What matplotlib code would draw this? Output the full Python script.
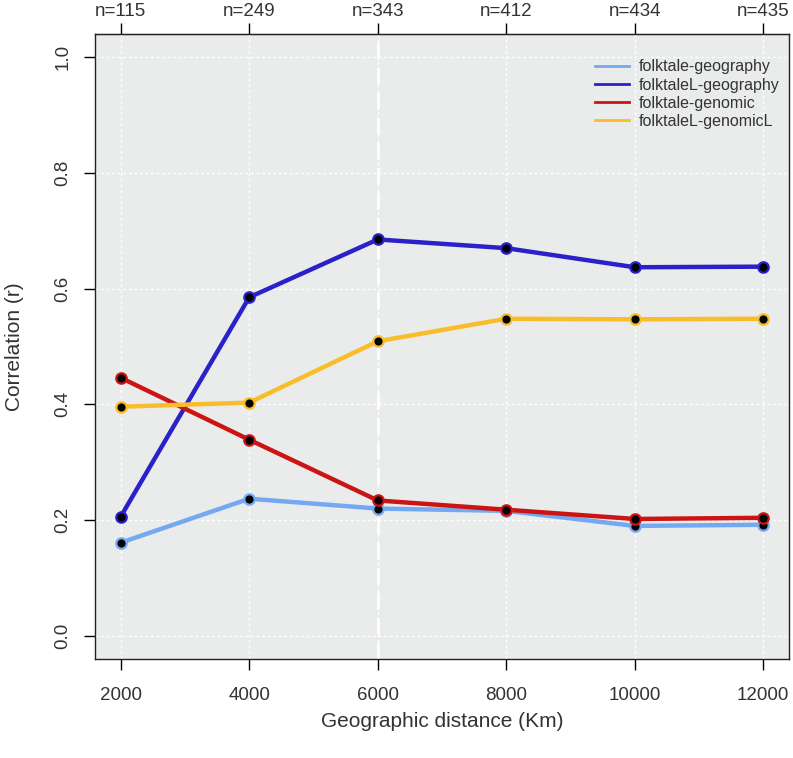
import numpy as np
import matplotlib.pyplot as plt

plt.rcParams['font.family'] = ['Liberation Sans', 'DejaVu Sans']

distance = [2000, 4000, 6000, 8000, 10000, 12000]
n_pairs = ['n=115', 'n=249', 'n=343', 'n=412', 'n=434', 'n=435']

folktale_geo = [0.161, 0.237, 0.220, 0.216, 0.190, 0.192]
folktaleL_geo = [0.206, 0.585, 0.685, 0.670, 0.637, 0.638]
folktale_gen = [0.446, 0.339, 0.234, 0.218, 0.202, 0.204]
folktaleL_genL = [0.396, 0.403, 0.509, 0.548, 0.547, 0.548]

series = [
    ('folktale-geography', folktale_geo, '#74a9f2'),
    ('folktaleL-geography', folktaleL_geo, '#2b21c9'),
    ('folktale-genomic', folktale_gen, '#cc1414'),
    ('folktaleL-genomicL', folktaleL_genL, '#f9bd2b'),
]

txt = '#333333'
fig = plt.figure(figsize=(7.93, 7.58), dpi=100)
ax = fig.add_axes([0.1198, 0.1306, 0.875, 0.8245])
ax.set_facecolor('#e9eceb')

# grid
for x in distance:
    ax.axvline(x, color='white', lw=1, ls=(0, (2, 2)), zorder=1)
for y in np.arange(0, 1.01, 0.2):
    ax.axhline(y, color='white', lw=1, ls=(0, (2, 2)), zorder=1)
ax.axvline(6000, color='white', lw=2, ls=(0, (6, 3)), zorder=1)

for name, vals, col in series:
    ax.plot(distance, vals, color=col, lw=3.2, label=name, zorder=3)
    ax.plot(distance, vals, ls='none', marker='o', ms=7.5,
            mfc='black', mec=col, mew=1.6, zorder=4)

ax.set_xlim(1600, 12400)
ax.set_ylim(-0.04, 1.04)
ax.set_xticks(distance)
ax.set_xticklabels([str(d) for d in distance])
ax.set_yticks(np.arange(0, 1.01, 0.2))
ax.set_yticklabels(['%.1f' % v for v in np.arange(0, 1.01, 0.2)],
                   rotation=90, va='center')
ax.tick_params(axis='both', direction='out', length=8, width=1,
               labelsize=13.5, colors='black', labelcolor=txt, pad=9)
ax.tick_params(axis='x', pad=12)

top = ax.secondary_xaxis('top')
top.set_xticks(distance)
top.set_xticklabels(n_pairs)
top.tick_params(direction='out', length=8, width=1, labelsize=13.5,
                labelcolor=txt, pad=2)

for s in ax.spines.values():
    s.set_linewidth(1)
    s.set_color('#222222')

ax.set_xlabel('Geographic distance (Km)', fontsize=15, color=txt, labelpad=6)
ax.set_ylabel('Correlation (r)', fontsize=15, color=txt, labelpad=22)

leg = ax.legend(loc='upper right', frameon=False, fontsize=11.5,
                handlelength=2.1, handletextpad=0.6, labelspacing=0.2,
                borderaxespad=0.6, bbox_to_anchor=(1.009, 0.985))
for t in leg.get_texts():
    t.set_color(txt)
for h in leg.get_lines():
    h.set_linewidth(2)

fig.savefig('out.png', dpi=100)
